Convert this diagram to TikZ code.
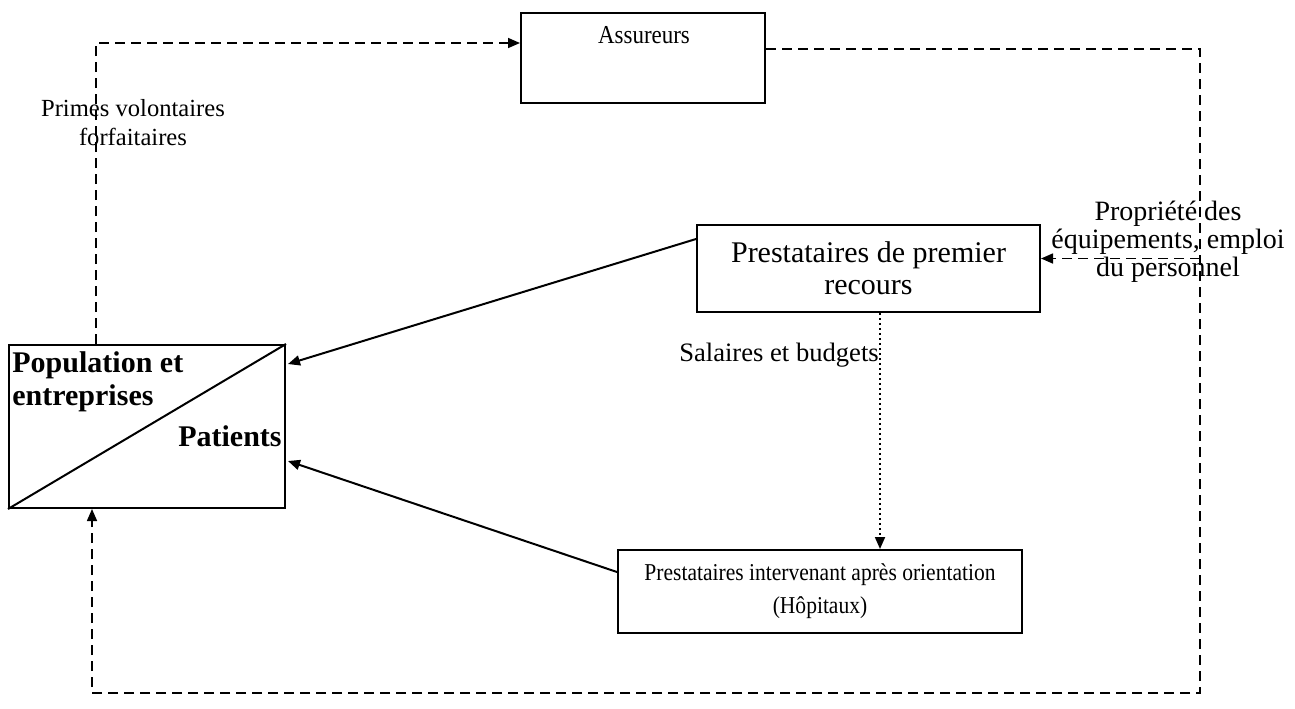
\documentclass[tikz,border=0pt]{standalone}
\usepackage{fontspec}
\setmainfont{Liberation Serif}
\newfontfamily\narrowfont{Liberation Serif}[FakeStretch=0.89]
\usetikzlibrary{arrows.meta,calc}
\begin{document}
\begin{tikzpicture}[x=0.5pt,y=-0.5pt,
  box/.style={draw,line width=1pt,rectangle,inner sep=0pt},
  lbl/.style={inner sep=0pt,align=center},
  tip/.style={-{Triangle[length=6pt,width=5pt]}},
  dashline/.style={line width=0.8pt,dash pattern=on 5pt off 3pt},
  solidline/.style={line width=1pt},
  dotline/.style={line width=0.9pt,dash pattern=on 1pt off 1.5pt}]
\useasboundingbox (0,0) rectangle (1295,708);

% boxes
\node[box,minimum width=122pt,minimum height=45pt] (assur) at (643,58) {};
\node[lbl,font=\narrowfont\fontsize{12.9}{14}\selectfont] (assurtxt) at (644,35) {Assureurs};
\node[box,minimum width=171.5pt,minimum height=43.5pt,align=center,
  font=\fontsize{15}{16}\selectfont] (prem) at (868.5,268.5) {Prestataires de premier\\recours};
\node[box,minimum width=202pt,minimum height=41.5pt,align=center,
  font=\narrowfont\fontsize{12.1}{16.5}\selectfont] (hop) at (820,591.5) {Prestataires intervenant après orientation\\(Hôpitaux)};
\node[box,minimum width=138pt,minimum height=81.5pt] (pop) at (147,426.5) {};
\draw[line width=1pt] (pop.south west) -- (pop.north east);
\node[lbl,anchor=north west,align=left,font=\bfseries\fontsize{15}{16.5}\selectfont] (poptxt) at (12,351) {Population et\\entreprises};
\node[lbl,anchor=north east,font=\bfseries\fontsize{15}{16}\selectfont] (pattxt) at (282,425) {Patients};

% labels
\node[lbl,font=\fontsize{12.3}{14.5}\selectfont] (primes) at (133,123) {Primes volontaires\\forfaitaires};
\node[lbl,font=\fontsize{13.3}{14}\selectfont] (salaires) at (779,355) {Salaires et budgets};
\node[lbl,font=\fontsize{14}{14}\selectfont] (propr) at (1168,242) {Propriété des\\équipements, emploi\\du personnel};

% connectors
\coordinate (rc) at (1200,693);
\draw[dashline,tip] ($(pop.north west)+(88,0)$) |- ($(assur.north west)+(0,31)$);
\draw[dashline,tip] ($(assur.north east)+(0,37)$) -| (rc) -| ($(pop.south west)+(84,0)$);
\coordinate (pe) at ($(prem.east)+(0,-10)$);
\draw[dashline,tip] (rc |- pe) -- (pe);
\draw[solidline,tip] ($(prem.north west)+(0,15)$) -- ($(pop.north east)+(2,20)$);
\draw[solidline,tip] ($(hop.north west)+(0,23)$) -- ($(pop.north east)+(2,117)$);
\coordinate (dv) at ($(prem.south)+(11.5,0)$);
\draw[dotline,tip] (dv) -- (dv |- hop.north);
\end{tikzpicture}
\end{document}
